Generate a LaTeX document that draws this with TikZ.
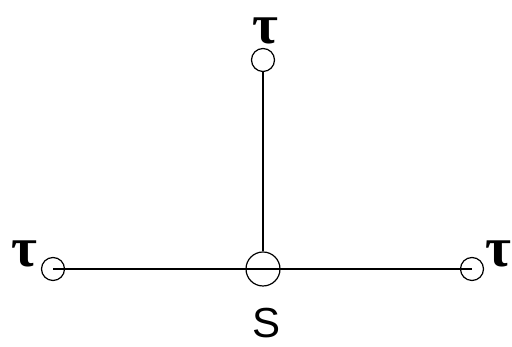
\documentclass[tikz,border=0pt]{standalone}
\usepackage{fontspec}
\setmainfont{Liberation Serif}
\newfontfamily\arialfont{Liberation Sans}
\begin{document}
\begin{tikzpicture}[x=1pt,y=1pt,
  small/.style={circle,draw,line width=1.2pt,minimum size=23pt,inner sep=0pt},
  big/.style={circle,draw,line width=1.2pt,minimum size=34pt,inner sep=0pt},
  tlab/.style={inner sep=0pt,font=\bfseries\fontsize{56}{56}\selectfont},
  slab/.style={inner sep=0pt,font=\arialfont\fontsize{42}{42}\selectfont},
  conn/.style={line width=1.2pt}]
\useasboundingbox (0,0) rectangle (512,347);
\node[small] (T) at (263,287) {};
\node[big] (C) at (263,78) {};
\node[small] (L) at (53,78) {};
\node[small] (R) at (472,78) {};
\draw[conn] (L.center) -- (R.center);
\draw[conn] (T.south) -- (C.north);
\node[tlab] (tt) at (265,316) {τ};
\node[tlab] (tl) at (24,93) {τ};
\node[tlab] (tr) at (498,93) {τ};
\node[slab] (s) at (267,24) {S};
\end{tikzpicture}
\end{document}
